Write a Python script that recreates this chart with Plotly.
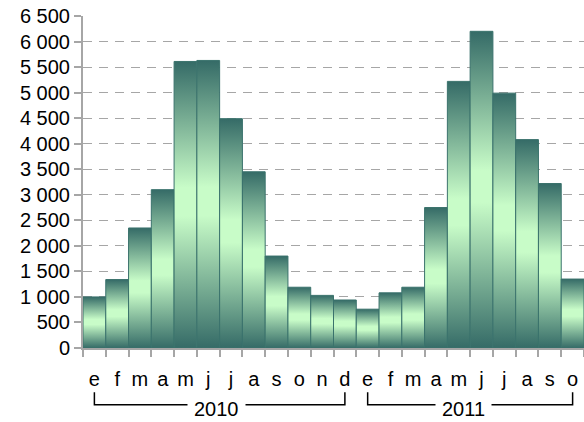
import plotly.graph_objects as go

months = ["e", "f", "m", "a", "m", "j", "j", "a", "s", "o", "n", "d",
          "e", "f", "m", "a", "m", "j", "j", "a", "s", "o"]
values = [1000, 1340, 2350, 3100, 5610, 5630, 4490, 3450, 1800, 1190, 1030, 940,
          760, 1080, 1190, 2750, 5220, 6200, 4990, 4080, 3220, 1350]
years = ["2010", "2011"]
year_counts = [12, 10]

DARK = "#356b67"
LIGHT = "#c8fcc8"
EDGE = "#3a726c"
GRAY = "#a6a6a6"
FONT = "Liberation Sans, Arial, sans-serif"

fig = go.Figure()
for i, v in enumerate(values):
    fig.add_trace(go.Scatter(
        x=[i - 0.5, i - 0.5, i + 0.5, i + 0.5, i - 0.5],
        y=[0, v, v, 0, 0],
        mode="lines",
        fill="toself",
        fillgradient=dict(type="vertical",
                          colorscale=[[0, DARK], [0.46, LIGHT], [0.56, LIGHT], [1, DARK]]),
        line=dict(color=EDGE, width=1),
        hoverinfo="skip",
        showlegend=False,
    ))

n = len(values)
fig.update_xaxes(
    range=[-0.5, n - 0.5],
    tickmode="array",
    tickvals=list(range(n)),
    ticktext=months,
    ticks="",
    ticklabelstandoff=12,
    showgrid=False,
    zeroline=False,
    showline=True, linecolor=GRAY, linewidth=2,
    tickfont=dict(family=FONT, size=20, color="#000"),
    minor=dict(tickmode="array", tickvals=[k - 0.5 for k in range(n + 1)],
               ticks="outside", ticklen=7, tickwidth=2, tickcolor=GRAY,
               showgrid=False),
)
fig.update_yaxes(
    range=[0, 6500],
    dtick=500,
    tick0=0,
    tickformat=",d",
    ticks="outside", ticklen=7, tickwidth=2, tickcolor=GRAY,
    showgrid=True, gridcolor=GRAY, gridwidth=1, griddash="9px,7px",
    zeroline=False,
    showline=True, linecolor=GRAY, linewidth=2,
    tickfont=dict(family=FONT, size=20, color="#000"),
)

# year group brackets
start = 0
offsets = [-0.15, -0.3]
for yr, cnt, off in zip(years, year_counts, offsets):
    a, b = start, start + cnt - 1
    fig.add_shape(type="path",
                  path=f"M {a},-0.133 L {a},-0.171 L {b},-0.171 L {b},-0.133",
                  xref="x", yref="paper", line=dict(color="#000", width=1.5))
    fig.add_annotation(x=(a + b) / 2 + off, y=-0.184, xref="x", yref="paper",
                       text=yr, showarrow=False, bgcolor="white", borderpad=6,
                       font=dict(family=FONT, size=20, color="#000"),
                       xanchor="center", yanchor="middle")
    start += cnt

fig.update_layout(
    width=584, height=422,
    margin=dict(l=83, r=0, t=16, b=74),
    plot_bgcolor="white", paper_bgcolor="white",
    separators=". ",
)
fig.write_html(
    "out.html",
    config={"displayModeBar": False, "staticPlot": True},
    post_script="document.body.style.margin='0';document.body.style.padding='0';"
                "document.documentElement.style.overflow='hidden';",
)
